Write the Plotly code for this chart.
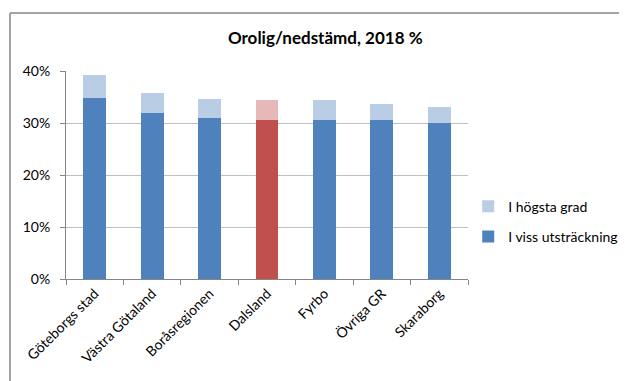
import plotly.graph_objects as go

categories = ["Göteborgs stad", "Västra Götaland", "Boråsregionen", "Dalsland", "Fyrbo", "Övriga GR", "Skaraborg"]
viss = [0.348, 0.319, 0.309, 0.306, 0.306, 0.306, 0.300]
hogsta = [0.044, 0.038, 0.037, 0.038, 0.038, 0.031, 0.031]
highlight = "Dalsland"

dark_cols = ["#C0504D" if c == highlight else "#4F81BD" for c in categories]
light_cols = ["#E6B9B8" if c == highlight else "#B9CDE5" for c in categories]

FONT = "Lato"

# plot area in figure pixels (page has an 8px body offset)
L, R, T, B = 58, 460, 63, 271
W, H = 627, 381
PW, PH = R - L, B - T

fig = go.Figure()
fig.add_trace(go.Bar(x=categories, y=viss, name="I viss utsträckning", legendgroup="b",
                     legendrank=2,
                     marker=dict(color=dark_cols, line=dict(width=0))))
fig.add_trace(go.Bar(x=categories, y=hogsta, name="I högsta grad", legendgroup="a",
                     legendrank=1,
                     marker=dict(color=light_cols, line=dict(width=0))))

fig.update_layout(
    width=W, height=H,
    barmode="stack", bargap=0.6,
    paper_bgcolor="white", plot_bgcolor="white",
    margin=dict(l=L, r=W - R, t=T, b=H - B, autoexpand=False),
    font=dict(family=FONT, size=13, color="#000000"),
    title=dict(text="<b>Orolig/nedstämd, 2018 %</b>", x=0.506, xanchor="center",
               y=0.921, yanchor="middle", font=dict(size=17, family=FONT)),
    showlegend=True,
    legend=dict(traceorder="grouped", xref="container", x=0.734, xanchor="left",
                y=0.276, yanchor="middle",
                font=dict(size=14, family=FONT), itemwidth=30, tracegroupgap=9,
                bgcolor="rgba(0,0,0,0)"),
    xaxis=dict(showline=True, linecolor="#868686", linewidth=1, ticks="outside",
               tickson="boundaries", ticklen=5, tickcolor="#868686", tickangle=-45,
               tickfont=dict(size=14, family=FONT), showgrid=False, fixedrange=True),
    yaxis=dict(range=[0, 0.4], tickvals=[0, 0.1, 0.2, 0.3, 0.4],
               ticktext=["0%", "10%", "20%", "30%", "40%"],
               showline=True, linecolor="#868686", linewidth=1, ticks="outside",
               ticklen=5, tickcolor="#868686", ticklabelstandoff=7,
               showgrid=True, gridcolor="#BFBFBF", gridwidth=1,
               tickfont=dict(size=14, family=FONT), zeroline=False),
    shapes=[
        dict(type="line", xref="paper", yref="paper", x0=(2 - L) / PW, x1=(W - L) / PW,
             y0=1 + (T - 5) / PH, y1=1 + (T - 5) / PH, line=dict(color="#868686", width=1.5)),
        dict(type="line", xref="paper", yref="paper", x0=(2 - L) / PW, x1=(2 - L) / PW,
             y0=1 + (T - 5) / PH, y1=-(H - B) / PH, line=dict(color="#868686", width=1.5)),
    ],
)

fig.write_html("out.html")
